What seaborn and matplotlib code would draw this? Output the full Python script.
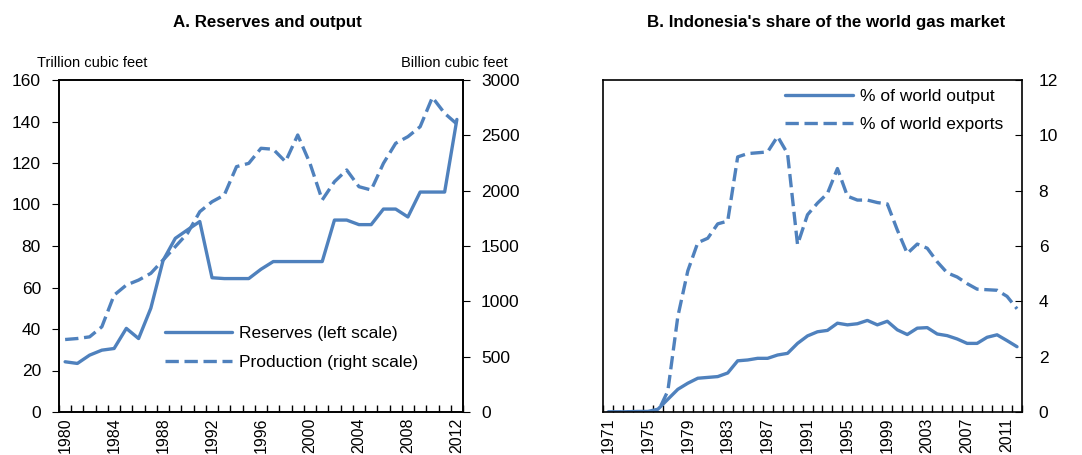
import numpy as np
import pandas as pd
import matplotlib.pyplot as plt
import seaborn as sns
from matplotlib.lines import Line2D

# panel A data
years_a = list(range(1980, 2013))
reserves = [24.2, 23.4, 27.4, 29.8, 30.6, 40.3, 35.4, 50.0, 73.0, 83.7,
            87.8, 91.8, 64.7, 64.3, 64.3, 64.3, 68.8, 72.5, 72.5, 72.5,
            72.5, 72.5, 92.5, 92.5, 90.3, 90.3, 97.8, 97.8, 94.0, 106.0,
            106.0, 106.0, 141.0]
production = [655, 664, 679, 770, 1056, 1147, 1192, 1253, 1373, 1494,
              1615, 1810, 1900, 1960, 2217, 2247, 2383, 2374, 2262, 2503,
              2247, 1916, 2081, 2187, 2036, 2006, 2247, 2428, 2488, 2578,
              2843, 2699, 2602]

# panel B data
years_b = list(range(1971, 2013))
share_output = [0.0, 0.0, 0.01, 0.02, 0.02, 0.1, 0.46, 0.82, 1.04, 1.22,
                1.25, 1.28, 1.41, 1.85, 1.88, 1.94, 1.94, 2.06, 2.12, 2.48,
                2.75, 2.9, 2.95, 3.21, 3.15, 3.19, 3.31, 3.15, 3.28, 2.97,
                2.8, 3.03, 3.05, 2.82, 2.76, 2.64, 2.48, 2.48, 2.7, 2.79,
                2.58, 2.36]
share_exports = [0.0, 0.0, 0.0, 0.0, 0.0, 0.0, 0.76, 3.45, 5.1, 6.12,
                 6.28, 6.8, 6.9, 9.22, 9.34, 9.37, 9.4, 9.96, 9.34, 6.05,
                 7.13, 7.55, 7.9, 8.8, 7.8, 7.66, 7.66, 7.57, 7.52, 6.58,
                 5.73, 6.07, 5.92, 5.43, 5.03, 4.88, 4.64, 4.44, 4.42, 4.4,
                 4.18, 3.73]

df_a = pd.DataFrame({"year": years_a, "reserves": reserves, "production": production})
df_b = pd.DataFrame({"year": years_b, "output": share_output, "exports": share_exports})

sns.set_style("ticks")
plt.rcParams["font.family"] = ["Liberation Sans", "DejaVu Sans"]
plt.rcParams["text.color"] = "black"
plt.rcParams["xtick.color"] = "black"
plt.rcParams["ytick.color"] = "black"
plt.rcParams["axes.labelcolor"] = "black"

blue = "#4F81BD"
lw = 2.4
dash = (4, 1.7)
fs = 12.5
xfs = 11.5

fig = plt.figure(figsize=(10.82, 4.55), dpi=100)
W, H = 1082, 455
ax = fig.add_axes([59 / W, 1 - 412 / H, 404 / W, 332 / H])
ax2 = ax.twinx()
bx = fig.add_axes([603 / W, 1 - 412 / H, 419 / W, 332 / H])

# ---- panel A
sns.lineplot(data=df_a, x="year", y="reserves", ax=ax, color=blue, lw=lw)
sns.lineplot(data=df_a, x="year", y="production", ax=ax2, color=blue, lw=lw,
             linestyle=(0, dash))
ax.set_xlim(1979.5, 2012.5)
ax.set_ylim(0, 160)
ax.set_yticks(range(0, 161, 20))
ax2.set_ylim(0, 3000)
ax2.set_yticks(range(0, 3001, 500))
ax.set_xticks(range(1980, 2013, 4))
ax.set_xticks(np.arange(1979.5, 2013, 1), minor=True)
ax.tick_params(axis="x", which="major", length=0, rotation=90, labelsize=xfs, pad=4)
ax.tick_params(axis="x", which="minor", direction="in", length=5, width=1)
ax.tick_params(axis="y", direction="out", length=5, labelsize=fs, pad=8)
ax2.tick_params(axis="y", direction="out", length=5, labelsize=fs, pad=8)
for a in (ax, ax2):
    a.set_xlabel("")
    a.set_ylabel("")
    for s in a.spines.values():
        s.set_linewidth(1.2)
        s.set_color("black")

handles = [Line2D([], [], color=blue, lw=lw),
           Line2D([], [], color=blue, lw=lw, linestyle=(0, dash))]
ax.legend(handles, ["Reserves (left scale)", "Production (right scale)"],
          loc="upper left", bbox_to_anchor=(0.244, 0.279), frameon=False,
          fontsize=fs, handlelength=3.9, handletextpad=0.4, labelspacing=0.75,
          borderaxespad=0)

fig.text(267 / W, 1 - 22 / H, "A. Reserves and output", ha="center", va="center",
         fontsize=12.2, fontweight="bold")
fig.text(37 / W, 1 - 63 / H, "Trillion cubic feet", ha="left", va="center", fontsize=10.5)
fig.text(508 / W, 1 - 63 / H, "Billion cubic feet", ha="right", va="center", fontsize=10.5)

# ---- panel B
sns.lineplot(data=df_b, x="year", y="output", ax=bx, color=blue, lw=lw,
             label="% of world output")
sns.lineplot(data=df_b, x="year", y="exports", ax=bx, color=blue, lw=lw,
             linestyle=(0, dash), label="% of world exports")
bx.set_xlim(1970.5, 2012.5)
bx.set_ylim(0, 12)
bx.set_yticks(range(0, 13, 2))
bx.yaxis.tick_right()
bx.set_xticks(range(1971, 2013, 4))
bx.set_xticks(np.arange(1970.5, 2013, 1), minor=True)
bx.tick_params(axis="x", which="major", length=0, rotation=90, labelsize=xfs, pad=4)
bx.tick_params(axis="x", which="minor", direction="in", length=5, width=1)
bx.tick_params(axis="y", direction="in", length=5, labelsize=fs, pad=12)
bx.set_xlabel("")
bx.set_ylabel("")
for s in bx.spines.values():
    s.set_linewidth(1.2)
    s.set_color("black")
leg = bx.legend(loc="upper left", bbox_to_anchor=(0.418, 0.995), frameon=False,
                fontsize=fs, handlelength=3.9, handletextpad=0.4,
                labelspacing=0.75, borderaxespad=0)
for h in leg.get_lines():
    h.set_linewidth(lw)

fig.text(826 / W, 1 - 22 / H, "B. Indonesia's share of the world gas market",
         ha="center", va="center", fontsize=12.2, fontweight="bold")

fig.savefig("out.png", dpi=100)
